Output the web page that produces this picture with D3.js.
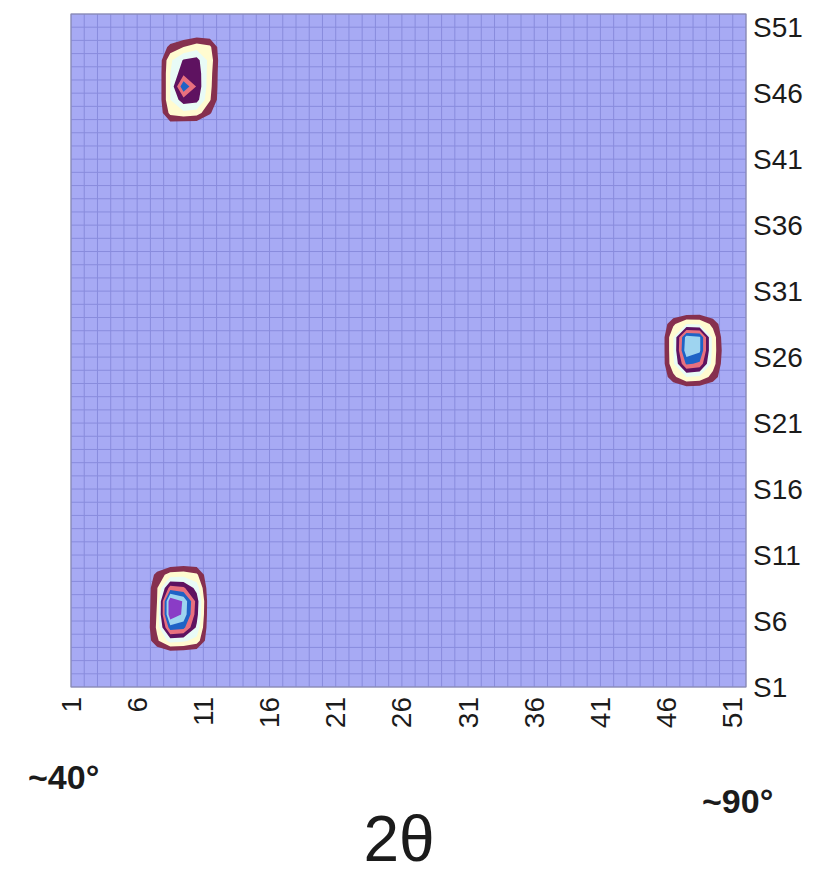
<!DOCTYPE html>
<html>
<head>
<meta charset="utf-8">
<script src="https://cdn.jsdelivr.net/npm/d3@7/dist/d3.min.js"></script>
<style>
  body { margin: 0; background: #ffffff; }
  text { font-family: "Liberation Sans", Arial, sans-serif; fill: #1b1b1b; }
</style>
</head>
<body>
<svg id="chart" width="818" height="877"></svg>
<script>
// 2θ steps (columns) and scan series (rows)
const columns = d3.range(1, 52).map(String);
const series = d3.range(1, 52).map(i => "S" + i);
const xTickLabels = ["1", "6", "11", "16", "21", "26", "31", "36", "41", "46", "51"];
const yTickLabels = ["S1", "S6", "S11", "S16", "S21", "S26", "S31", "S36", "S41", "S46", "S51"];

// Intensity around each reflection: [first column, top series], then rows from top to bottom
const peakUpperAt = ["7", "S50"];
const peakUpper = [
  [0.0, 0.0, 0.1, 0.4, 0.3, 0.0],
  [0.0, 1.3, 2.0, 2.6, 2.2, 0.0],
  [0.0, 2.8, 4.1, 4.4, 2.6, 0.0],
  [0.0, 3.0, 4.7, 4.8, 2.4, 0.0],
  [0.0, 3.0, 6.9, 4.9, 2.3, 0.0],
  [0.0, 3.0, 4.6, 4.4, 2.1, 0.0],
  [0.0, 2.3, 2.7, 2.5, 1.1, 0.0],
  [0.0, 0.3, 0.0, 0.0, 0.0, 0.0]
];

const peakRightAt = ["45", "S29"];
const peakRight = [
  [0.0, 0.0, 0.1, 0.2, 0.0, 0.0],
  [0.0, 1.8, 3.0, 2.9, 1.7, 0.0],
  [0.0, 2.9, 7.5, 7.2, 2.6, 0.0],
  [0.0, 2.9, 7.8, 7.2, 2.6, 0.2],
  [0.0, 2.8, 6.2, 5.8, 2.5, 0.0],
  [0.0, 1.7, 3.0, 2.8, 1.6, 0.0],
  [0.0, 0.0, 0.2, 0.1, 0.0, 0.0]
];

const peakLowerAt = ["6", "S10"];
const peakLower = [
  [0.0, 0.0, 0.0, 0.2, 0.2, 0.0],
  [0.0, 1.3, 2.5, 2.6, 2.2, 0.0],
  [0.0, 1.9, 5.5, 5.2, 3.6, 0.0],
  [0.0, 2.0, 8.9, 7.9, 4.6, 0.0],
  [0.0, 2.1, 8.9, 7.8, 4.4, 0.0],
  [0.0, 2.2, 6.6, 6.3, 3.8, 0.0],
  [0.0, 1.8, 3.4, 3.2, 2.6, 0.0],
  [0.0, 0.0, 0.2, 0.1, 0.0, 0.0]
];

const levels = [1, 2, 3, 4, 5, 6, 7, 8];
const levelColors = ["#a7aaf4", "#86304f", "#fffbd0", "#e8fbf6", "#5e1260", "#e8707e", "#1f63c6", "#9ed4f0", "#8a3cc6"];

const svg = d3.select("#chart");
const plotLeft = 71, plotRight = 746, plotTop = 14, plotBottom = 687;

const xBand = d3.scaleBand().domain(columns).range([plotLeft, plotRight]);
const yBand = d3.scaleBand().domain(series).range([plotBottom, plotTop]);
const xGrid = d3.scaleLinear().domain([0, columns.length]).range([plotLeft, plotRight]);
const yGrid = d3.scaleLinear().domain([0, series.length]).range([plotTop, plotBottom]);

// Full intensity grid, row 0 = top series
const nx = columns.length, ny = series.length;
const values = new Array(nx * ny).fill(0);
function place(at, rows) {
  const c0 = columns.indexOf(at[0]);
  const r0 = ny - 1 - series.indexOf(at[1]);
  rows.forEach((row, r) => row.forEach((v, c) => { values[(r0 + r) * nx + c0 + c] = v; }));
}
place(peakUpperAt, peakUpper);
place(peakRightAt, peakRight);
place(peakLowerAt, peakLower);

// plot background (lowest band)
svg.append("rect")
  .attr("x", plotLeft).attr("y", plotTop)
  .attr("width", plotRight - plotLeft).attr("height", plotBottom - plotTop)
  .attr("fill", levelColors[0]);

// grid
const gridG = svg.append("g").attr("stroke", "#7f82d6").attr("stroke-width", 1).attr("opacity", 0.75);
d3.range(0, nx + 1).forEach(k => {
  gridG.append("line").attr("x1", xGrid(k)).attr("x2", xGrid(k)).attr("y1", plotTop).attr("y2", plotBottom);
});
d3.range(0, ny + 1).forEach(k => {
  gridG.append("line").attr("y1", yGrid(k)).attr("y2", yGrid(k)).attr("x1", plotLeft).attr("x2", plotRight);
});

// contour bands
const proj = d3.geoTransform({
  point(x, y) { this.stream.point(xGrid(x), yGrid(y)); }
});
const path = d3.geoPath(proj);
const contours = d3.contours().size([nx, ny]).thresholds(levels)(values);
svg.append("g").selectAll("path")
  .data(contours)
  .join("path")
  .attr("d", path)
  .attr("fill", (d, i) => levelColors[i + 1]);

// plot border
svg.append("rect")
  .attr("x", plotLeft).attr("y", plotTop)
  .attr("width", plotRight - plotLeft).attr("height", plotBottom - plotTop)
  .attr("fill", "none").attr("stroke", "#8a8aa8").attr("stroke-width", 1);

// x tick labels (rotated)
svg.append("g").selectAll("text")
  .data(xTickLabels)
  .join("text")
  .attr("transform", d => `translate(${xBand(d)},697) rotate(-90)`)
  .attr("text-anchor", "end")
  .attr("dominant-baseline", "central")
  .attr("font-size", 28)
  .text(d => d);

// y tick labels
svg.append("g").selectAll("text")
  .data(yTickLabels)
  .join("text")
  .attr("x", 753)
  .attr("y", d => yBand(d) + yBand.bandwidth())
  .attr("dominant-baseline", "central")
  .attr("font-size", 28)
  .text(d => d);

// range annotations and axis title
svg.append("text").attr("x", 28).attr("y", 789)
  .attr("font-size", 34).attr("font-weight", "bold").text("~40°");
svg.append("text").attr("x", 702).attr("y", 813)
  .attr("font-size", 34).attr("font-weight", "bold").text("~90°");
svg.append("text").attr("x", 399).attr("y", 861)
  .attr("text-anchor", "middle")
  .attr("font-size", 64).text("2θ");
</script>
</body>
</html>
